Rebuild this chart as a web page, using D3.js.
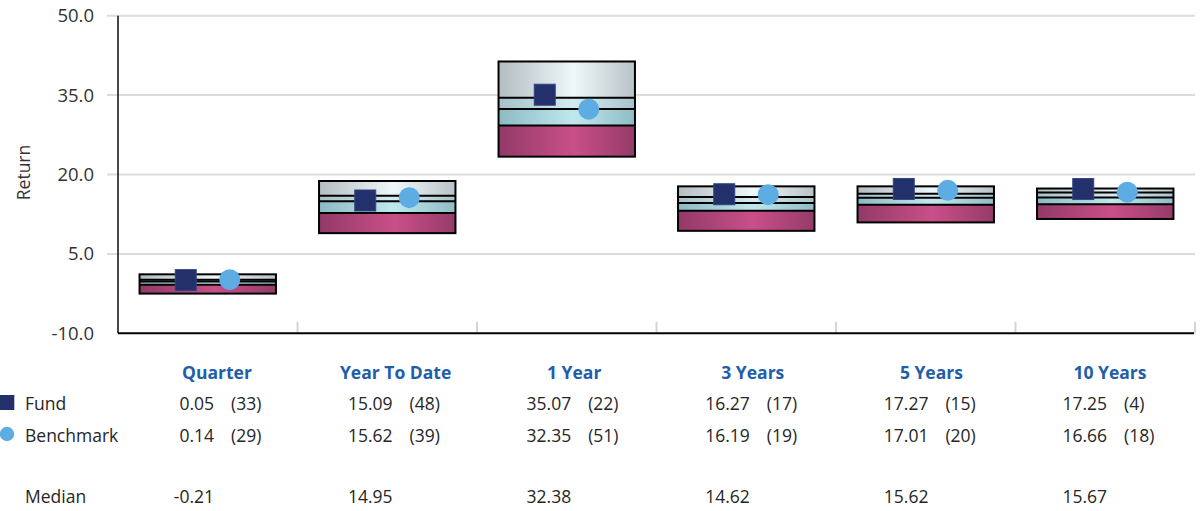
<!DOCTYPE html>
<html>
<head>
<meta charset="utf-8">
<script src="https://cdn.jsdelivr.net/npm/d3@7"></script>
<style>
  html, body { margin: 0; padding: 0; background: #ffffff; }
  svg { display: block; font-family: "Open Sans", "Noto Sans", sans-serif; }
</style>
</head>
<body>
<svg id="chart" width="1203" height="511"></svg>
<script>
// ---- data ----
const categories   = ["Quarter", "Year To Date", "1 Year", "3 Years", "5 Years", "10 Years"];
const fundValues   = [0.05, 15.09, 35.07, 16.27, 17.27, 17.25];
const fundRanks    = [33, 48, 22, 17, 15, 4];
const benchValues  = [0.14, 15.62, 32.35, 16.19, 17.01, 16.66];
const benchRanks   = [29, 39, 51, 19, 20, 18];
const medianValues = [-0.21, 14.95, 32.38, 14.62, 15.62, 15.67];
const p5Values     = [1.14, 18.77, 41.35, 17.76, 17.76, 17.35];
const p25Values    = [0.10, 15.99, 34.48, 15.74, 16.36, 16.60];
const p75Values    = [-0.84, 12.71, 29.24, 13.15, 14.28, 14.40];
const p95Values    = [-2.50, 8.92, 23.37, 9.36, 10.95, 11.60];
const yTicks       = [-10, 5, 20, 35, 50];
const rowLabels    = ["Fund", "Benchmark", "Median"];

// ---- layout ----
const svg = d3.select("#chart");
const plot = { left: 118, right: 1195, top: 15.7, bottom: 333.3 };
const loc = d3.formatLocale({ decimal: ".", thousands: ",", grouping: [3], currency: ["", ""], minus: "-" });

const y = d3.scaleLinear().domain([-10, 50]).range([plot.bottom, plot.top]);
const x = d3.scaleBand().domain(categories).range([plot.left, plot.right])
  .paddingInner(0.24).paddingOuter(0.12);
const step = x.step();
const cx = c => x(c) + x.bandwidth() / 2;
const tableX = d3.scalePoint().domain(categories).range([217, 1110]);

const defs = svg.append("defs");
function grad(id, edgeL, mid, edgeR) {
  const g = defs.append("linearGradient").attr("id", id)
    .attr("x1", "0").attr("x2", "1").attr("y1", "0").attr("y2", "0");
  g.append("stop").attr("offset", "0").attr("stop-color", edgeL);
  g.append("stop").attr("offset", "0.55").attr("stop-color", mid);
  g.append("stop").attr("offset", "1").attr("stop-color", edgeR);
}
grad("gGray", "#b3bdc2", "#eef7f9", "#b9c3c7");
grad("gLtTeal", "#a6c1c7", "#d3ecf0", "#a8c3c9");
grad("gTeal", "#8cbac3", "#c0e8ee", "#8fbcc5");
grad("gPink", "#923a67", "#c94f89", "#953b69");

// gridlines
svg.append("g").selectAll("line")
  .data(yTicks.filter(t => t !== -10)).join("line")
  .attr("x1", 107).attr("x2", plot.right)
  .attr("y1", d => y(d)).attr("y2", d => y(d))
  .attr("stroke", "#dcdcdc").attr("stroke-width", 2);

// y tick labels
svg.append("g").selectAll("text")
  .data(yTicks).join("text")
  .attr("x", 94).attr("y", d => y(d))
  .attr("dy", "0.35em").attr("text-anchor", "end")
  .attr("font-size", 18.5).attr("fill", "#333333")
  .text(loc.format(".1f"));

// y axis title
svg.append("text")
  .attr("transform", "translate(29.5,172.5) rotate(-90)")
  .attr("text-anchor", "middle").attr("font-size", 17.5).attr("fill", "#333333")
  .text("Return");

// category separator ticks
svg.append("g").selectAll("line")
  .data(categories).join("line")
  .attr("x1", d => x(d) - x.paddingOuter() * step + step)
  .attr("x2", d => x(d) - x.paddingOuter() * step + step)
  .attr("y1", plot.bottom - 11.5).attr("y2", plot.bottom)
  .attr("stroke", "#d4d4d4").attr("stroke-width", 2);

// boxes
const boxes = categories.map((c, i) => ({
  c, p5: p5Values[i], p25: p25Values[i], med: medianValues[i], p75: p75Values[i], p95: p95Values[i]
}));
const bw = x.bandwidth();
const bg = svg.append("g").selectAll("g").data(boxes).join("g");
const segs = [["p5", "p25", "gGray"], ["p25", "med", "gLtTeal"], ["med", "p75", "gTeal"], ["p75", "p95", "gPink"]];
segs.forEach(([a, b, g]) => {
  bg.append("rect")
    .attr("x", d => x(d.c)).attr("width", bw)
    .attr("y", d => y(d[a])).attr("height", d => y(d[b]) - y(d[a]))
    .attr("fill", `url(#${g})`);
});
["p25", "med", "p75"].forEach(k => {
  bg.append("line")
    .attr("x1", d => x(d.c)).attr("x2", d => x(d.c) + bw)
    .attr("y1", d => y(d[k])).attr("y2", d => y(d[k]))
    .attr("stroke", "#000").attr("stroke-width", 2);
});
bg.append("rect")
  .attr("x", d => x(d.c)).attr("width", bw)
  .attr("y", d => y(d.p5)).attr("height", d => y(d.p95) - y(d.p5))
  .attr("fill", "none").attr("stroke", "#000").attr("stroke-width", 2);

// axes lines
svg.append("line").attr("x1", plot.left).attr("x2", plot.left)
  .attr("y1", plot.top).attr("y2", plot.bottom)
  .attr("stroke", "#1a1a1a").attr("stroke-width", 1.6);
svg.append("line").attr("x1", plot.left).attr("x2", plot.right - 1)
  .attr("y1", plot.bottom).attr("y2", plot.bottom)
  .attr("stroke", "#000").attr("stroke-width", 2);

// markers
const sq = 21;
svg.append("g").selectAll("rect").data(categories).join("rect")
  .attr("x", (d, i) => cx(d) - 22 - sq / 2)
  .attr("y", (d, i) => y(fundValues[i]) - sq / 2)
  .attr("width", sq).attr("height", sq)
  .attr("fill", "#22306b").attr("stroke", "#34457f").attr("stroke-width", 1);
svg.append("g").selectAll("circle").data(categories).join("circle")
  .attr("cx", d => cx(d) + 22)
  .attr("cy", (d, i) => y(benchValues[i]))
  .attr("r", 10.5).attr("fill", "#5dade2");

// ---- table ----
const rowY = { head: 379, fund: 410, bench: 441.5, median: 503 };
const tf = 17.5;
const txtCol = "#262626";

svg.append("g").selectAll("text").data(categories).join("text")
  .attr("x", d => tableX(d)).attr("y", rowY.head)
  .attr("text-anchor", "middle").attr("font-size", tf).attr("font-weight", "bold")
  .attr("fill", "#1f5ea8").text(d => d);

// legend markers
svg.append("rect").attr("x", 0).attr("y", 395).attr("width", 14.3).attr("height", 15)
  .attr("fill", "#22306b");
svg.append("circle").attr("cx", 7).attr("cy", 434).attr("r", 7.2).attr("fill", "#5dade2");

svg.append("g").selectAll("text").data(rowLabels).join("text")
  .attr("x", 25).attr("y", (d, i) => [rowY.fund, rowY.bench, rowY.median][i])
  .attr("font-size", tf).attr("fill", txtCol).text(d => d);

const fmt = loc.format(".2f");
function valueRow(vals, ranks, yy) {
  const g = svg.append("g");
  g.selectAll("text.v").data(categories).join("text").attr("class", "v")
    .attr("x", d => tableX(d) - 3).attr("y", yy)
    .attr("text-anchor", "end").attr("font-size", tf).attr("fill", txtCol)
    .text((d, i) => fmt(vals[i]));
  if (ranks) {
    g.selectAll("text.r").data(categories).join("text").attr("class", "r")
      .attr("x", d => tableX(d) + 14).attr("y", yy)
      .attr("font-size", tf).attr("fill", txtCol)
      .text((d, i) => `(${ranks[i]})`);
  }
}
valueRow(fundValues, fundRanks, rowY.fund);
valueRow(benchValues, benchRanks, rowY.bench);
valueRow(medianValues, null, rowY.median);
</script>
</body>
</html>
